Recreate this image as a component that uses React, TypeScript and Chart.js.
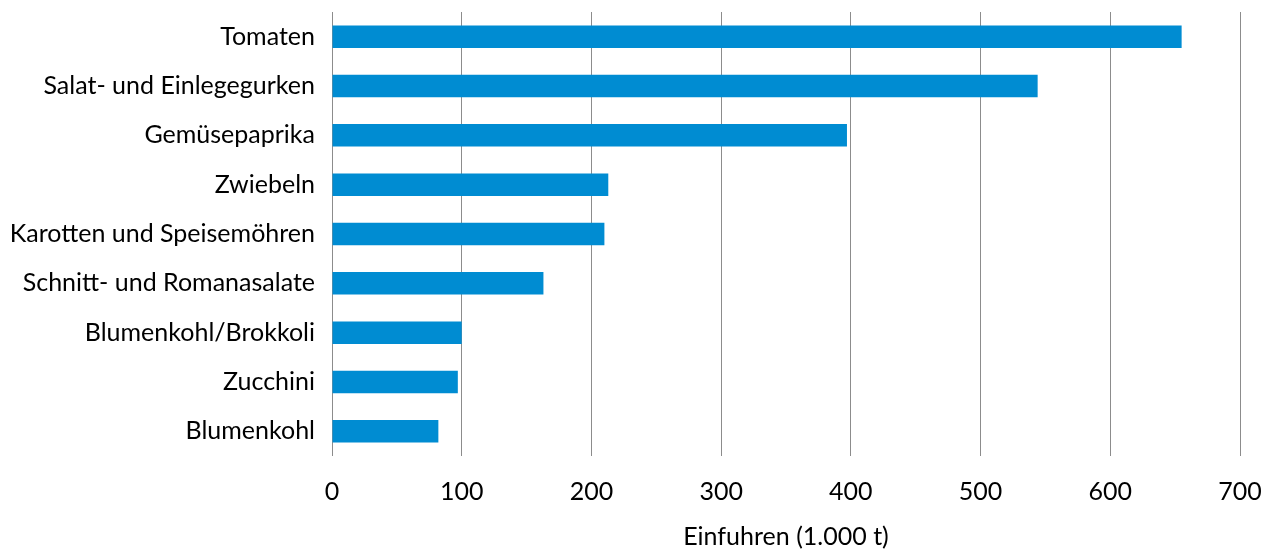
import React, { useEffect, useRef } from "react";
import { Chart, registerables } from "chart.js";

Chart.register(...registerables);

const categories = [
  "Tomaten",
  "Salat- und Einlegegurken",
  "Gemüsepaprika",
  "Zwiebeln",
  "Karotten und Speisemöhren",
  "Schnitt- und Romanasalate",
  "Blumenkohl/Brokkoli",
  "Zucchini",
  "Blumenkohl",
];

const imports = [655, 544, 397, 213, 210, 163, 100, 97, 82];

const xTicks = [0, 100, 200, 300, 400, 500, 600, 700];

const axisTitle = "Einfuhren (1.000 t)";

export default function App() {
  const ref = useRef<HTMLCanvasElement | null>(null);

  useEffect(() => {
    document.body.style.margin = "0";
    const canvas = ref.current;
    if (!canvas) return;
    const font = "Lato, 'Open Sans', sans-serif";
    const chart = new Chart(canvas, {
      type: "bar",
      data: {
        labels: categories,
        datasets: [
          {
            data: imports,
            backgroundColor: "#008cd2",
            borderWidth: 0,
            barPercentage: 0.455,
            categoryPercentage: 1,
          },
        ],
      },
      options: {
        indexAxis: "y",
        animation: false,
        responsive: false,
        maintainAspectRatio: false,
        layout: { padding: { top: 12, right: 31, left: 0, bottom: 0 } },
        plugins: {
          legend: { display: false },
          tooltip: { enabled: false },
        },
        scales: {
          x: {
            min: 0,
            max: 700,
            afterBuildTicks: (scale: any) => {
              scale.ticks = xTicks.map((v) => ({ value: v }));
            },
            afterFit: (scale: any) => {
              scale.height = 94;
              scale.paddingLeft = 0;
              scale.paddingRight = 0;
            },
            grid: {
              color: "#8c8c8c",
              lineWidth: 1,
              drawTicks: false,
            },
            border: { display: false },
            ticks: {
              padding: 21,
              color: "#000000",
              font: { family: font, size: 25 },
            },
            title: {
              display: true,
              text: axisTitle,
              color: "#000000",
              font: { family: font, size: 25, lineHeight: 1.05 },
              padding: { top: 0, bottom: 0 },
            },
          },
          y: {
            afterFit: (scale: any) => {
              scale.width = 332;
              scale.paddingTop = 0;
              scale.paddingBottom = 0;
            },
            grid: { display: false, drawTicks: false },
            border: { display: false },
            ticks: {
              padding: 17,
              color: "#000000",
              font: { family: font, size: 25 },
            },
          },
        },
      },
    });
    return () => chart.destroy();
  }, []);

  return (
    <div style={{ width: 1271, height: 550 }}>
      <canvas ref={ref} width={1271} height={550} style={{ display: "block" }} />
    </div>
  );
}
